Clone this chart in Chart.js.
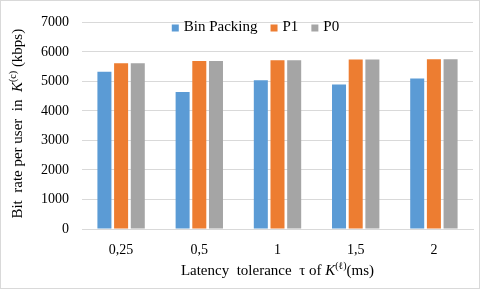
<!DOCTYPE html>
<html>
<head>
<meta charset="utf-8">
<script src="https://cdn.jsdelivr.net/npm/chart.js@4.4.0/dist/chart.umd.min.js"></script>
<style>
  html, body { margin: 0; padding: 0; background: #fff; }
  #wrap { position: relative; width: 480px; height: 289px; border: 1px solid #d9d9d9; box-sizing: border-box; }
</style>
</head>
<body>
<div id="wrap"><canvas id="chart"></canvas></div>
<script>
var categories = ['0,25', '0,5', '1', '1,5', '2'];
var binPacking = [5330, 4640, 5040, 4900, 5100];
var p1 = [5620, 5690, 5720, 5740, 5750];
var p0 = [5620, 5690, 5720, 5740, 5750];

var serif = '"Liberation Serif", "Times New Roman", serif';

// draws a line of mixed-style text (italic K, small superscript) centred on x
function richText(ctx, parts, x, y){
    var w = 0;
    parts.forEach(function(p){ ctx.font = p.font; w += ctx.measureText(p.t).width; });
    var cx = x - w / 2;
    ctx.textBaseline = 'middle';
    ctx.textAlign = 'left';
    parts.forEach(function(p){
        ctx.font = p.font;
        ctx.fillText(p.t, cx, y + (p.dy || 0));
        cx += ctx.measureText(p.t).width;
    });
}

var extras = {
    id: 'extras',
    afterDraw: function(chart){
        var ctx = chart.ctx, a = chart.chartArea;
        var f = '15px ' + serif, fi = 'italic 15px ' + serif, fs = '10px ' + serif;
        ctx.save();
        ctx.fillStyle = '#000';
        // x title
        richText(ctx, [
            { t: 'Latency  tolerance  \u03c4 of ', font: f },
            { t: 'K', font: fi },
            { t: '(\u2113)', font: fs, dy: -5 },
            { t: '(ms)', font: f }
        ], (a.left + a.right) / 2, 270);
        // y title
        ctx.save();
        ctx.translate(17, (a.top + a.bottom) / 2 - 2);
        ctx.rotate(-Math.PI / 2);
        richText(ctx, [
            { t: 'Bit  rate per user  in  ', font: f },
            { t: 'K', font: fi },
            { t: '(c)', font: fs, dy: -5 },
            { t: ' (kbps)', font: f }
        ], 0, 0);
        ctx.restore();
        // legend inside the plot, between the top gridlines
        var items = chart.data.datasets.map(function(d){ return { label: d.label, color: d.backgroundColor }; });
        ctx.font = '15px ' + serif;
        var box = 7, gap = 5, sep = 13, total = 0;
        items.forEach(function(it, i){ total += box + gap + ctx.measureText(it.label).width + (i ? sep : 0); });
        var x = (a.left + a.right) / 2 - 22 - total / 2, y = 26;
        ctx.textBaseline = 'middle';
        ctx.textAlign = 'left';
        items.forEach(function(it){
            ctx.fillStyle = it.color;
            ctx.fillRect(x, y - box / 2 + 1, box, box);
            ctx.fillStyle = '#000';
            ctx.fillText(it.label, x + box + gap, y);
            x += box + gap + ctx.measureText(it.label).width + sep;
        });
        ctx.restore();
    }
};

(function(){
    var ctx = document.getElementById('chart').getContext('2d');
    var mk = function(label, values, color){
        return { label: label, data: values, backgroundColor: color, borderWidth: 0,
                 categoryPercentage: 0.64, barPercentage: 0.84 };
    };
    new Chart(ctx, {
        type: 'bar',
        data: {
            labels: categories,
            datasets: [
                mk('Bin Packing', binPacking, '#5b9bd5'),
                mk('P1', p1, '#ed7d31'),
                mk('P0', p0, '#a5a5a5')
            ]
        },
        options: {
            responsive: true,
            maintainAspectRatio: false,
            animation: false,
            layout: { padding: { top: 15, right: 6, left: 0, bottom: 0 } },
            plugins: {
                tooltip: { enabled: false },
                legend: { display: false }
            },
            scales: {
                x: {
                    afterFit: function(s){ s.height = 59; },
                    grid: { display: false, drawTicks: false },
                    border: { display: true, color: '#d9d9d9' },
                    ticks: { color: '#000', padding: 13, font: { family: serif, size: 14 } }
                },
                y: {
                    min: 0, max: 7000,
                    afterFit: function(s){ s.width = 81; },
                    grid: { color: '#d9d9d9', drawTicks: false },
                    border: { display: false },
                    ticks: { stepSize: 1000, color: '#000', padding: 13, font: { family: serif, size: 14 },
                             callback: function(v){ return String(v); } }
                }
            }
        },
        plugins: [extras]
    });
})();
</script>
</body>
</html>
